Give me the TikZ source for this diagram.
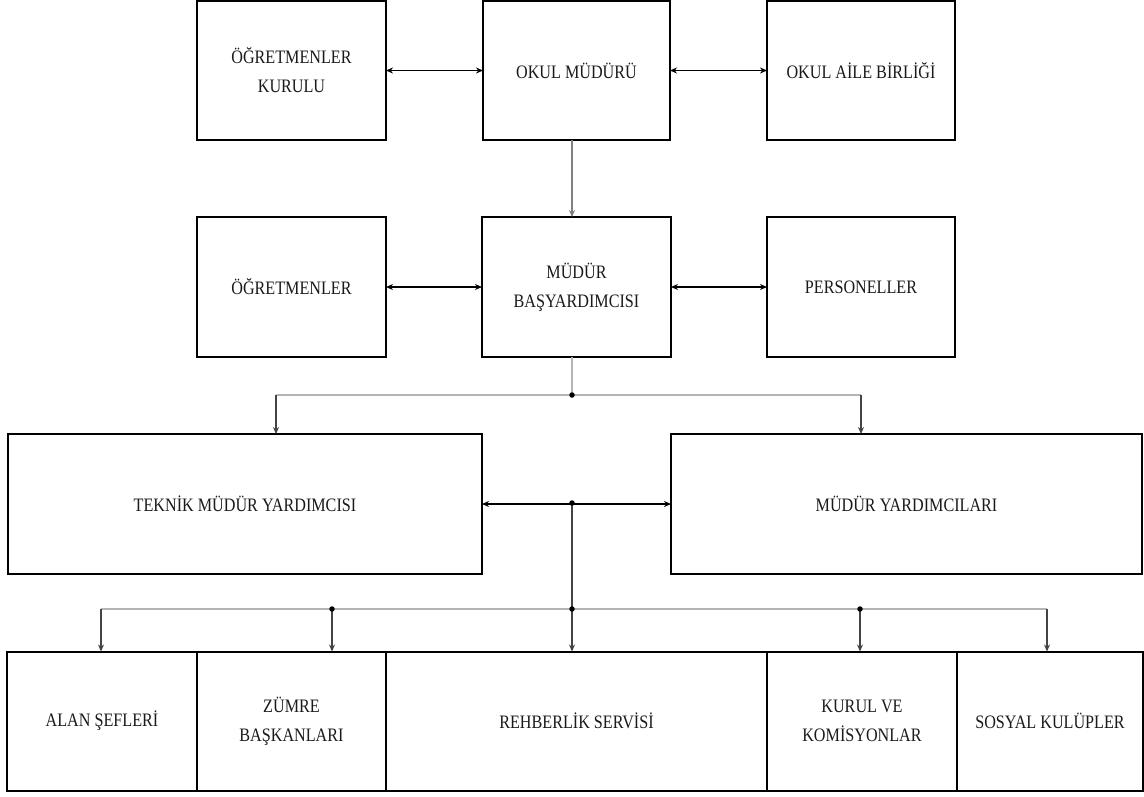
\documentclass[tikz,border=0pt]{standalone}
\usepackage{fontspec}
\setmainfont[FakeStretch=0.85]{Liberation Serif}
\usetikzlibrary{arrows.meta}
\definecolor{txt}{HTML}{1A1A1A}
\definecolor{bus}{HTML}{B4B4B4}
\definecolor{link}{HTML}{444444}
\tikzset{
  box/.style={draw=black, line width=2pt, rectangle, inner sep=0pt, outer sep=0pt,
    align=center, text=txt, font=\fontsize{19}{29}\selectfont},
  conn/.style={draw=link, line width=1.1pt, -{Stealth[length=7pt,width=6pt]}},
  dconn/.style={draw=black, line width=1.3pt, {Stealth[length=7pt,width=6pt]}-{Stealth[length=7pt,width=6pt]}},
  busline/.style={draw=bus, line width=1.5pt},
  jdot/.style={fill=black, circle, inner sep=0pt, minimum size=5.5pt}
}
\begin{document}
\begin{tikzpicture}[x=1pt, y=-1pt]
\useasboundingbox (0,0) rectangle (1144,796);
\fill[white] (0,0) rectangle (1144,796);
% top row
\node[box, minimum width=189, minimum height=139] (ogk) at (291.5,70.5) {ÖĞRETMENLER\\KURULU};
\node[box, minimum width=187, minimum height=139] (om) at (576.5,70.5) {OKUL MÜDÜRÜ};
\node[box, minimum width=188, minimum height=139] (oab) at (861,70.5) {OKUL AİLE BİRLİĞİ};
% second row
\node[box, minimum width=189, minimum height=140] (ogr) at (291.5,287) {ÖĞRETMENLER};
\node[box, minimum width=189, minimum height=140] (mba) at (576.5,287) {MÜDÜR\\BAŞYARDIMCISI};
\node[box, minimum width=188, minimum height=140] (per) at (861,287) {PERSONELLER};
% third row
\node[box, minimum width=474, minimum height=140] (tmy) at (245,504) {TEKNİK MÜDÜR YARDIMCISI};
\node[box, minimum width=471, minimum height=140] (my) at (906.5,504) {MÜDÜR YARDIMCILARI};
% bottom row
\node[box, minimum width=190, minimum height=139] (alan) at (102,721) {ALAN ŞEFLERİ};
\node[box, minimum width=189, minimum height=139] (zum) at (291.5,721) {ZÜMRE\\BAŞKANLARI};
\node[box, minimum width=381, minimum height=139] (reh) at (576.5,721) {REHBERLİK SERVİSİ};
\node[box, minimum width=190, minimum height=139] (kur) at (862,721) {KURUL VE\\KOMİSYONLAR};
\node[box, minimum width=186, minimum height=139] (sos) at (1050,721) {SOSYAL KULÜPLER};
% horizontal double arrows
\draw[dconn] (ogk.east) -- (om.west);
\draw[dconn] (om.east) -- (oab.west);
\draw[dconn] (ogr.east) -- (mba.west);
\draw[dconn] (mba.east) -- (per.west);
% coordinates
\coordinate (j1) at (572,395);
\coordinate (j2) at (572,503);
\coordinate (j3) at (572,609);
\coordinate (jl) at (276,395);
\coordinate (jr) at (861,395);
\coordinate (b1) at (101,609);
\coordinate (b2) at (332,609);
\coordinate (b4) at (860,609);
\coordinate (b5) at (1047,609);
% om -> mba
\draw[conn, draw=gray] (om.south -| j1) -- (mba.north -| j1);
% mba -> bus
\draw[busline] (mba.south -| j1) -- (j1);
\draw[busline] (jl) -- (jr);
\draw[conn] (jl) -- (tmy.north -| jl);
\draw[conn] (jr) -- (my.north -| jr);
% tmy <-> my
\draw[dconn] (tmy.east) -- (my.west);
% vertical to bottom bus
\draw[draw=link, line width=1.1pt] (j2) -- (j3);
\draw[busline] (b1) -- (b5);
\draw[conn] (j3) -- (reh.north -| j3);
\draw[conn] (b1) -- (alan.north -| b1);
\draw[conn] (b2) -- (zum.north -| b2);
\draw[conn] (b4) -- (kur.north -| b4);
\draw[conn] (b5) -- (sos.north -| b5);
% dots
\node[jdot] (d1) at (j1) {};
\node[jdot] (d2) at (j2) {};
\node[jdot] (d3) at (j3) {};
\node[jdot] (d4) at (b2) {};
\node[jdot] (d5) at (b4) {};
\end{tikzpicture}
\end{document}
